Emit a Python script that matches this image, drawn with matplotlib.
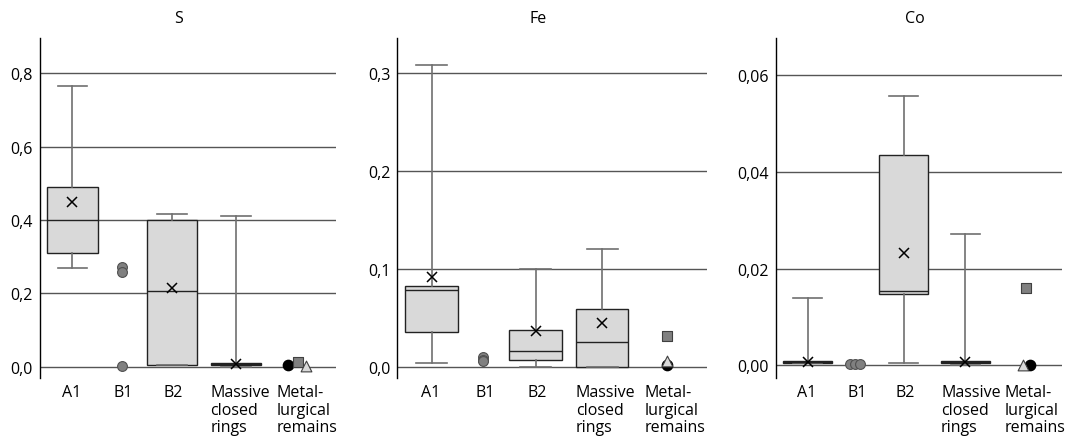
import numpy as np
import matplotlib.pyplot as plt
from matplotlib.ticker import FuncFormatter

plt.rcParams['font.family'] = ['Open Sans', 'DejaVu Sans']

categories = ['A1', 'B1', 'B2', 'Massive\nclosed\nrings', 'Metal-\nlurgical\nremains']
elements = ['S', 'Fe', 'Co']

# box groups: A1, B2, Massive closed rings
s_low = [0.270, 0.003, 0.000]
s_q1 = [0.311, 0.004, 0.005]
s_med = [0.401, 0.205, 0.007]
s_q3 = [0.490, 0.399, 0.010]
s_high = [0.766, 0.416, 0.412]
s_mean = [0.449, 0.214, 0.008]
s_b1 = [0.272, 0.259, 0.002]
s_metal = [0.003, 0.013, 0.002]  # circle, square, triangle

fe_low = [0.0038, 0.000, 0.000]
fe_q1 = [0.0357, 0.0068, 0.000]
fe_med = [0.078, 0.0157, 0.0249]
fe_q3 = [0.082, 0.0374, 0.0592]
fe_high = [0.308, 0.100, 0.1198]
fe_mean = [0.092, 0.0367, 0.0449]
fe_b1 = [0.010, 0.007, 0.006]
fe_metal = [0.002, 0.0316, 0.006]

co_low = [0.0004, 0.0004, 0.000]
co_q1 = [0.0005, 0.0147, 0.0005]
co_med = [0.0007, 0.0154, 0.0007]
co_q3 = [0.0009, 0.0435, 0.0009]
co_high = [0.0139, 0.0557, 0.0272]
co_mean = [0.0007, 0.0233, 0.0007]
co_b1 = [0.0003, 0.0003, 0.0003]
co_metal = [0.000, 0.0159, 0.0001]

data = {
    'S': (s_low, s_q1, s_med, s_q3, s_high, s_mean, s_b1, s_metal),
    'Fe': (fe_low, fe_q1, fe_med, fe_q3, fe_high, fe_mean, fe_b1, fe_metal),
    'Co': (co_low, co_q1, co_med, co_q3, co_high, co_mean, co_b1, co_metal),
}

# layout (pixels of a 1074x439 figure)
ax_rects = {'S': (39.5, 336), 'Fe': (397.3, 706.7), 'Co': (775.7, 1062.3)}
ylims = {'S': (-0.032, 0.896), 'Fe': (-0.0118, 0.3351), 'Co': (-0.0027, 0.0676)}
yticks = {'S': np.arange(0, 0.81, 0.2), 'Fe': np.arange(0, 0.31, 0.1), 'Co': np.arange(0, 0.061, 0.02)}
ydec = {'S': 1, 'Fe': 1, 'Co': 2}
title_x = {'S': 0.47, 'Fe': 0.456, 'Co': 0.486}
b1_off = {'S': [0, 0, 0], 'Fe': [0, 0, 0], 'Co': [-0.017, 0, 0.017]}
metal_off = {'S': [-0.034, 0, 0.027], 'Fe': [0, 0, 0], 'Co': [0.015, 0, -0.01]}

box_x = [0.111, 0.447, 0.662]
b1_x = 0.277
metal_x = 0.872
label_x = [0.107, 0.283, 0.451, 0.577, 0.80]
label_ha = ['center', 'center', 'center', 'left', 'left']

W, H = 1074, 439
fig = plt.figure(figsize=(W / 100, H / 100), dpi=100)

for el in elements:
    low, q1, med, q3, high, mean, b1, metal = data[el]
    x0, x1 = ax_rects[el]
    ax = fig.add_axes([x0 / W, (H - 379.3) / H, (x1 - x0) / W, 340 / H])

    stats = []
    for i in range(len(low)):
        stats.append(dict(whislo=low[i], q1=q1[i], med=med[i], q3=q3[i],
                          whishi=high[i], mean=mean[i], fliers=[]))
    ax.bxp(stats, positions=box_x, widths=0.17, capwidths=0.1, showmeans=True,
           patch_artist=True, manage_ticks=False,
           boxprops=dict(facecolor='#d9d9d9', edgecolor='#222222', linewidth=1),
           medianprops=dict(color='#222222', linewidth=1),
           whiskerprops=dict(color='#707070', linewidth=1.2),
           capprops=dict(color='#707070', linewidth=1.2),
           meanprops=dict(marker='x', markeredgecolor='black', markersize=6.5,
                          markeredgewidth=1.1))

    # B1 points
    ax.scatter(b1_x + np.array(b1_off[el]), b1, s=50, marker='o',
               color='#808080', edgecolor='#505050', linewidth=0.8, zorder=4)

    # metallurgical remains
    mx = metal_x + np.array(metal_off[el])
    ax.scatter(mx[0], metal[0], s=55, marker='o', color='black', zorder=4)
    ax.scatter(mx[1], metal[1], s=50, marker='s', color='#808080',
               edgecolor='#404040', linewidth=0.8, zorder=4)
    ax.scatter(mx[2], metal[2], s=60, marker='^', color='#d9d9d9',
               edgecolor='#404040', linewidth=0.8, zorder=5)

    ax.set_xlim(0, 1)
    ax.set_ylim(*ylims[el])
    ax.set_yticks(yticks[el])
    d = ydec[el]
    ax.yaxis.set_major_formatter(FuncFormatter(lambda v, p, d=d: f'{v:.{d}f}'.replace('.', ',')))
    ax.yaxis.grid(True, color='#555555', linewidth=1)
    ax.set_axisbelow(True)
    for sp in ['top', 'right', 'bottom']:
        ax.spines[sp].set_visible(False)
    ax.spines['left'].set_color('black')
    ax.spines['left'].set_linewidth(1)
    ax.tick_params(axis='y', length=0, pad=5, labelsize=11.5)
    ax.tick_params(axis='x', length=0, pad=4, labelsize=11.5)
    ax.set_xticks(label_x)
    ax.set_xticklabels(categories, linespacing=1.15)
    for t, ha in zip(ax.get_xticklabels(), label_ha):
        t.set_ha(ha)
        t.set_multialignment('left')
    ax.set_title(el, x=title_x[el], fontsize=11.5, pad=12)

fig.savefig('out.png', dpi=100)
